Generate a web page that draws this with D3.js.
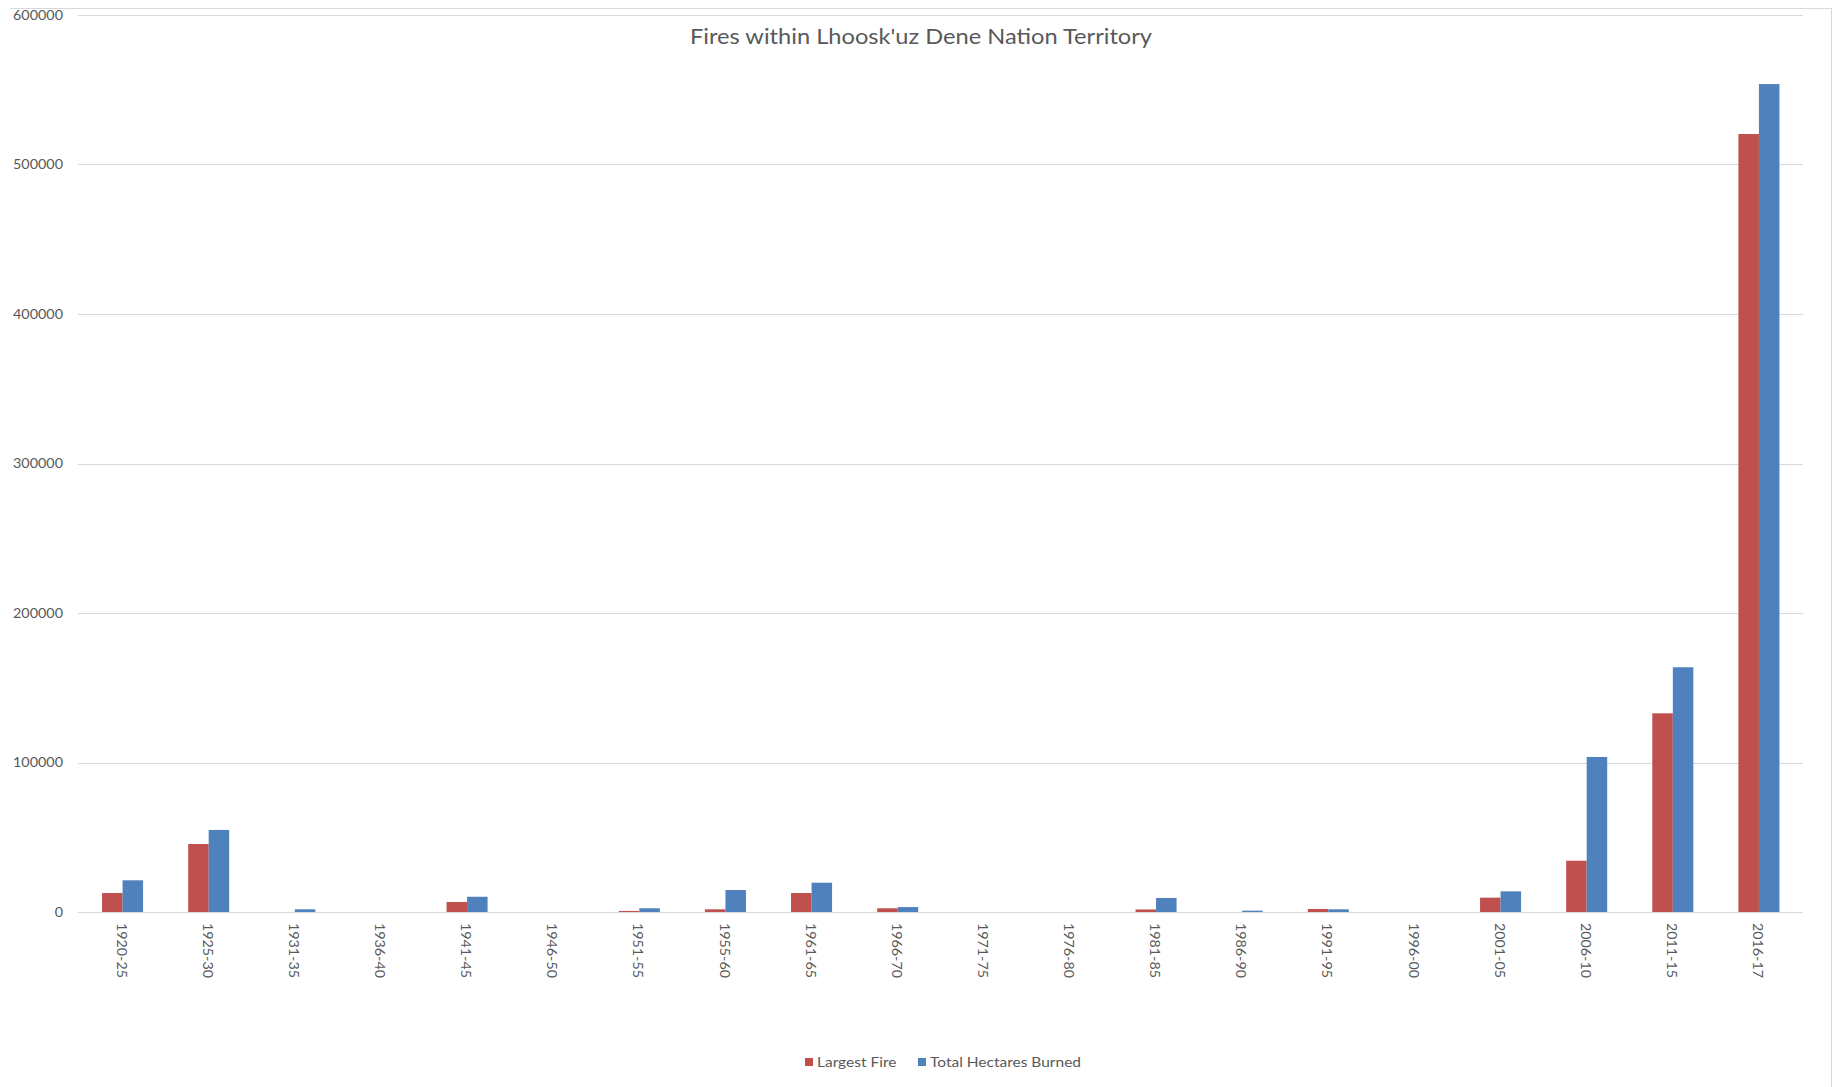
<!DOCTYPE html>
<html>
<head>
<meta charset="utf-8">
<script src="https://cdn.jsdelivr.net/npm/d3@7"></script>
<style>
  html, body { margin: 0; padding: 0; background: #fff; }
  svg { display: block; }
  text { font-family: Lato, "Open Sans", sans-serif; fill: #595959; }
</style>
</head>
<body>
<script>
const categories = ["1920-25","1925-30","1931-35","1936-40","1941-45","1946-50","1951-55","1955-60","1961-65","1966-70","1971-75","1976-80","1981-85","1986-90","1991-95","1996-00","2001-05","2006-10","2011-15","2016-17"];
const largestFire = [12700, 45500, 0, 0, 6700, 0, 700, 1800, 12700, 2500, 0, 0, 1700, 0, 2000, 0, 9600, 34300, 132900, 520400];
const totalHectares = [21200, 54900, 1800, 0, 10200, 0, 2500, 14700, 19600, 3300, 0, 0, 9400, 900, 1800, 0, 13800, 103700, 163700, 553800];
const seriesNames = ["Largest Fire", "Total Hectares Burned"];
const seriesColors = ["#C0504D", "#4F81BD"];
const yTicks = [0, 100000, 200000, 300000, 400000, 500000, 600000];
const chartTitle = "Fires within Lhoosk'uz Dene Nation Territory";

const W = 1836, H = 1087;
const svg = d3.select("body").append("svg").attr("width", W).attr("height", H);

// stretch helper: fit text group to reference width
function stretch(sel, refText, refWidth, fontSize) {
  const tmp = svg.append("text").style("font-size", fontSize + "px").text(refText);
  const k = refWidth / tmp.node().getComputedTextLength();
  tmp.remove();
  sel.each(function() {
    const len = this.getComputedTextLength();
    d3.select(this).attr("textLength", len * k).attr("lengthAdjust", "spacingAndGlyphs");
  });
}

// frame
svg.append("line").attr("x1", 10).attr("x2", 1831).attr("y1", 8.5).attr("y2", 8.5)
  .attr("stroke", "#d9d9d9").attr("stroke-width", 1);
svg.append("line").attr("x1", 1831.5).attr("x2", 1831.5).attr("y1", 8).attr("y2", H)
  .attr("stroke", "#d9d9d9").attr("stroke-width", 1);

const plotL = 79.5, plotR = 1802, plotT = 15, plotB = 912;

const x0 = d3.scaleBand().domain(categories).range([plotL, plotR]).paddingInner(0).paddingOuter(0);
const x1 = d3.scaleBand().domain(seriesNames).range([0, x0.bandwidth()]).paddingInner(0).paddingOuter(1.1);
const y = d3.scaleLinear().domain([0, 600000]).range([plotB, plotT]);

// gridlines
svg.append("g").selectAll("line").data(yTicks).join("line")
  .attr("x1", plotL - 1.5).attr("x2", plotR + 1)
  .attr("y1", d => Math.round(y(d)) + 0.5).attr("y2", d => Math.round(y(d)) + 0.5)
  .attr("stroke", "#d9d9d9").attr("stroke-width", 1);

// y labels
const yl = svg.append("g").selectAll("text").data(yTicks).join("text")
  .attr("x", 63).attr("y", d => y(d)).attr("dy", "0.35em")
  .attr("text-anchor", "end").style("font-size", "13px")
  .text(d => d3.format("d")(d));
stretch(yl, "600000", 50, 13);

// bars
const rows = categories.map((c, i) => ({ cat: c, vals: [largestFire[i], totalHectares[i]] }));
const g = svg.append("g").selectAll("g").data(rows).join("g")
  .attr("transform", d => `translate(${x0(d.cat)},0)`);
g.selectAll("rect").data(d => d.vals.map((v, j) => ({ v, s: seriesNames[j], j }))).join("rect")
  .attr("x", d => x1(d.s)).attr("width", x1.bandwidth())
  .attr("y", d => y(d.v)).attr("height", d => y(0) - y(d.v))
  .attr("fill", d => seriesColors[d.j]);

// x labels
const xl = svg.append("g").selectAll("text").data(categories).join("text")
  .attr("transform", d => `translate(${x0(d) + x0.bandwidth() / 2 - 1.5},923) rotate(90)`)
  .attr("dy", "0.35em").attr("text-anchor", "start").style("font-size", "12.5px")
  .text(d => d);
stretch(xl, "1920-25", 55, 12.5);

// title
const t = svg.append("text").attr("x", 921).attr("y", 44).attr("text-anchor", "middle")
  .style("font-size", "21px").text(chartTitle);
stretch(t, chartTitle, 462, 21);

// legend
const legX = [805, 918];
const leg = svg.append("g").selectAll("g").data(seriesNames).join("g")
  .attr("transform", (d, i) => `translate(${legX[i]},1062)`);
leg.append("rect").attr("x", 0).attr("y", -4).attr("width", 8).attr("height", 8)
  .attr("fill", (d, i) => seriesColors[i]);
const lt = leg.append("text").attr("x", 12).attr("y", 0).attr("dy", "0.35em")
  .style("font-size", "13px").text(d => d);
stretch(lt, "Total Hectares Burned", 151, 13);
</script>
</body>
</html>
